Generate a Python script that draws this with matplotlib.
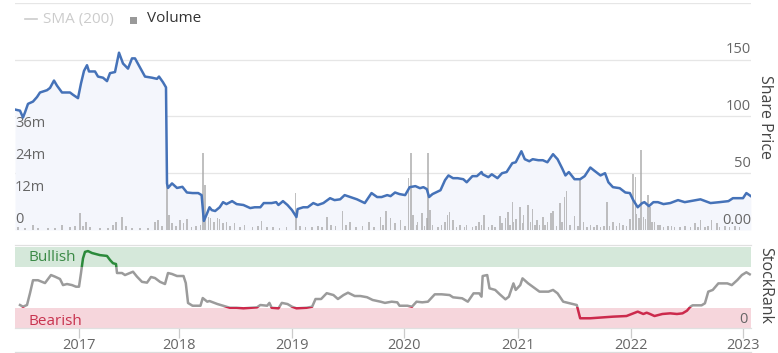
import numpy as np
import matplotlib
matplotlib.use("Agg")
import matplotlib.pyplot as plt
from matplotlib.patches import Rectangle
from matplotlib.lines import Line2D

plt.rcParams['font.family'] = ['Open Sans', 'DejaVu Sans']

# ---------------- data ----------------
price_years = [2016.36, 2016.41, 2016.44, 2016.46, 2016.49, 2016.54, 2016.58, 2016.61, 2016.68, 2016.71,
               2016.75, 2016.78, 2016.83, 2016.91, 2016.94, 2016.99, 2017.02, 2017.05, 2017.08, 2017.10,
               2017.16, 2017.19, 2017.24, 2017.28, 2017.31, 2017.36, 2017.40, 2017.44, 2017.49, 2017.53,
               2017.56, 2017.61, 2017.66, 2017.73, 2017.78, 2017.80, 2017.84, 2017.87, 2017.88, 2017.89,
               2017.93, 2017.98, 2018.03, 2018.07, 2018.12, 2018.17, 2018.20, 2018.22, 2018.25, 2018.27,
               2018.29, 2018.32, 2018.36, 2018.39, 2018.42, 2018.47, 2018.51, 2018.57, 2018.63, 2018.67,
               2018.72, 2018.75, 2018.82, 2018.86, 2018.88, 2018.92, 2018.96, 2019.00, 2019.04, 2019.05,
               2019.10, 2019.14, 2019.19, 2019.23, 2019.28, 2019.34, 2019.38, 2019.43, 2019.47, 2019.52,
               2019.58, 2019.65, 2019.71, 2019.76, 2019.80, 2019.85, 2019.88, 2019.92, 2019.96, 2020.01,
               2020.05, 2020.10, 2020.14, 2020.17, 2020.20, 2020.22, 2020.25, 2020.32, 2020.36, 2020.39,
               2020.43, 2020.47, 2020.52, 2020.55, 2020.60, 2020.64, 2020.68, 2020.69, 2020.74, 2020.77,
               2020.82, 2020.86, 2020.90, 2020.95, 2020.98, 2021.03, 2021.06, 2021.10, 2021.13, 2021.18,
               2021.22, 2021.26, 2021.31, 2021.35, 2021.39, 2021.42, 2021.45, 2021.50, 2021.55, 2021.59,
               2021.64, 2021.67, 2021.73, 2021.77, 2021.80, 2021.84, 2021.90, 2021.95, 2021.99, 2022.02,
               2022.06, 2022.10, 2022.12, 2022.16, 2022.20, 2022.24, 2022.29, 2022.35, 2022.42, 2022.48,
               2022.62, 2022.71, 2022.79, 2022.87, 2022.91, 2023.00, 2023.03, 2023.07]
price_values = [106, 105, 99, 103.5, 111, 113, 117, 121, 123, 125,
                131.5, 127, 121, 121, 119, 116, 129, 140, 145, 139.5,
                139.5, 135, 134, 131, 138, 139, 156, 146.5, 142, 151,
                151, 143, 135, 134, 133, 135, 130, 125.5, 41, 37,
                41, 37, 38, 33, 32.5, 32.5, 30.7, 8, 15, 20,
                17.5, 16.7, 20, 24.5, 22.8, 25.4, 22.8, 22, 19.3, 20,
                20, 23.7, 23.7, 24.5, 22, 25.4, 22, 17.5, 11.4, 18.4,
                20, 20, 23.7, 22, 23.7, 28, 26.3, 27, 30.7, 29,
                27, 23.7, 32.5, 29, 29, 30.7, 29.8, 33, 31.6, 30.7,
                37.7, 38.6, 36.8, 37.7, 36, 29, 31.6, 35, 43.9, 48,
                45.6, 45.6, 44.7, 42, 47.4, 47.4, 51, 49, 46.5, 49,
                45.6, 50, 51, 58.8, 59.6, 69.3, 62.3, 60.5, 62.3, 61.4,
                61.4, 59.6, 66.7, 62.3, 54.4, 48, 51, 44.7, 44.7, 47.4,
                55, 52.6, 48, 50, 42, 37.7, 36.8, 33, 32.5, 26.3,
                20, 23.7, 24.5, 21, 24.5, 24.5, 22.8, 23.7, 26.3, 24.5,
                27, 23.7, 24.5, 25.4, 28, 28, 32.5, 29.8]

volume_years = [2016.39, 2016.46, 2016.54, 2016.59, 2016.69, 2016.76, 2016.83, 2016.91, 2016.96, 2017.01,
                2017.04, 2017.07, 2017.11, 2017.21, 2017.29, 2017.34, 2017.37, 2017.43, 2017.47, 2017.53,
                2017.61, 2017.69, 2017.76, 2017.79, 2017.83, 2017.88, 2017.90, 2017.93, 2017.97, 2018.01,
                2018.04, 2018.07, 2018.11, 2018.15, 2018.19, 2018.21, 2018.23, 2018.26, 2018.28, 2018.31,
                2018.34, 2018.36, 2018.39, 2018.42, 2018.45, 2018.49, 2018.54, 2018.58, 2018.65, 2018.70,
                2018.73, 2018.78, 2018.83, 2018.89, 2018.95, 2019.03, 2019.04, 2019.07, 2019.12, 2019.18,
                2019.23, 2019.27, 2019.31, 2019.35, 2019.39, 2019.45, 2019.48, 2019.52, 2019.57, 2019.63,
                2019.69, 2019.73, 2019.79, 2019.81, 2019.84, 2019.88, 2019.92, 2019.97, 2020.01, 2020.04,
                2020.06, 2020.08, 2020.11, 2020.12, 2020.16, 2020.18, 2020.20, 2020.21, 2020.23, 2020.25,
                2020.30, 2020.33, 2020.36, 2020.38, 2020.40, 2020.43, 2020.46, 2020.49, 2020.53, 2020.55,
                2020.60, 2020.63, 2020.66, 2020.68, 2020.70, 2020.74, 2020.77, 2020.80, 2020.84, 2020.86,
                2020.89, 2020.91, 2020.93, 2020.95, 2020.96, 2020.98, 2021.02, 2021.04, 2021.05, 2021.09,
                2021.11, 2021.13, 2021.15, 2021.17, 2021.19, 2021.22, 2021.24, 2021.26, 2021.29, 2021.31,
                2021.34, 2021.37, 2021.39, 2021.41, 2021.43, 2021.46, 2021.50, 2021.53, 2021.55, 2021.58,
                2021.61, 2021.64, 2021.67, 2021.70, 2021.73, 2021.76, 2021.79, 2021.81, 2021.84, 2021.87,
                2021.90, 2021.93, 2021.96, 2021.99, 2022.02, 2022.04, 2022.05, 2022.07, 2022.09, 2022.11,
                2022.13, 2022.15, 2022.17, 2022.19, 2022.21, 2022.24, 2022.26, 2022.29, 2022.33, 2022.36,
                2022.39, 2022.44, 2022.48, 2022.53, 2022.57, 2022.60, 2022.62, 2022.66, 2022.69, 2022.72,
                2022.77, 2022.79, 2022.84, 2022.88, 2022.93, 2022.97]
volume_millions = [1.0, 0.8, 1.9, 0.8, 0.7, 0.8, 1.9, 1.2, 1.5, 6.4,
                   1.5, 3.0, 1.0, 0.6, 0.7, 2.0, 3.0, 4.9, 1.5, 0.8,
                   0.8, 0.8, 3.0, 3.7, 1.5, 23.0, 5.6, 2.5, 1.5, 3.7,
                   2.5, 4.0, 1.2, 1.5, 2.0, 29.0, 17.0, 5.0, 4.5, 3.0,
                   4.5, 4.0, 2.5, 3.0, 1.5, 2.5, 1.2, 2.0, 1.0, 1.5,
                   3.5, 1.0, 1.2, 0.8, 1.0, 14.0, 7.5, 1.5, 1.0, 1.2,
                   1.5, 1.0, 5.0, 2.0, 1.5, 7.0, 2.0, 3.0, 1.0, 1.5,
                   3.0, 1.0, 5.0, 2.0, 7.0, 4.5, 2.5, 3.7, 1.5, 19.5,
                   29.0, 5.6, 2.0, 3.0, 6.4, 1.5, 4.5, 29.0, 7.5, 1.9,
                   1.2, 1.9, 3.0, 5.6, 6.7, 3.7, 1.0, 1.9, 1.0, 1.9,
                   1.0, 1.5, 3.0, 2.0, 5.6, 1.2, 1.9, 1.0, 5.2, 2.5,
                   4.5, 6.7, 2.0, 10.5, 3.0, 4.1, 8.6, 2.5, 5.6, 9.4,
                   3.0, 7.9, 2.0, 3.7, 1.9, 4.9, 2.0, 3.0, 6.4, 7.1,
                   1.5, 10.0, 3.0, 12.4, 14.6, 2.0, 5.2, 1.5, 18.8, 3.0,
                   1.0, 1.9, 1.0, 1.9, 1.0, 1.5, 10.5, 1.5, 3.0, 1.5,
                   2.5, 2.0, 1.5, 4.0, 21.0, 20.0, 6.0, 4.5, 30.0, 5.0,
                   4.0, 13.0, 8.6, 3.0, 3.0, 2.0, 1.9, 1.0, 1.5, 1.5,
                   1.0, 1.0, 1.5, 1.0, 2.6, 1.0, 3.7, 1.0, 1.5, 3.7,
                   2.5, 1.0, 1.5, 1.0, 1.5, 1.0]

rank_years = [2016.41, 2016.44, 2016.48, 2016.51, 2016.54, 2016.59, 2016.63, 2016.66, 2016.69, 2016.72,
              2016.76, 2016.81, 2016.84, 2016.88, 2016.93, 2016.97, 2017.00, 2017.02, 2017.04, 2017.06,
              2017.09, 2017.13, 2017.21, 2017.28, 2017.31, 2017.34, 2017.37, 2017.38, 2017.43, 2017.46,
              2017.51, 2017.54, 2017.58, 2017.63, 2017.68, 2017.72, 2017.76, 2017.81, 2017.86, 2017.89,
              2017.93, 2017.98, 2018.04, 2018.06, 2018.08, 2018.12, 2018.19, 2018.21, 2018.25, 2018.27,
              2018.34, 2018.39, 2018.45, 2018.51, 2018.57, 2018.69, 2018.72, 2018.78, 2018.80, 2018.82,
              2018.88, 2018.91, 2018.96, 2019.00, 2019.04, 2019.13, 2019.18, 2019.21, 2019.26, 2019.31,
              2019.37, 2019.41, 2019.46, 2019.50, 2019.56, 2019.61, 2019.67, 2019.72, 2019.79, 2019.83,
              2019.89, 2019.94, 2019.96, 2020.03, 2020.07, 2020.11, 2020.16, 2020.21, 2020.27, 2020.33,
              2020.40, 2020.43, 2020.51, 2020.56, 2020.61, 2020.66, 2020.68, 2020.69, 2020.73, 2020.75,
              2020.80, 2020.84, 2020.89, 2020.92, 2020.96, 2020.98, 2021.02, 2021.04, 2021.09, 2021.13,
              2021.19, 2021.27, 2021.31, 2021.35, 2021.40, 2021.46, 2021.52, 2021.55, 2021.64, 2021.84,
              2021.96, 2022.02, 2022.06, 2022.11, 2022.14, 2022.17, 2022.21, 2022.28, 2022.35, 2022.41,
              2022.46, 2022.50, 2022.53, 2022.55, 2022.63, 2022.66, 2022.69, 2022.73, 2022.78, 2022.86,
              2022.90, 2022.95, 2022.99, 2023.03, 2023.06]
rank_values = [28.4, 26.3, 28.4, 43, 59, 59, 57, 55.5, 60.5, 65.4,
               63.4, 60.5, 53, 54.3, 53, 51, 51, 67.9, 86, 94,
               95, 92.6, 90, 89, 84, 80, 79, 67.9, 67.9, 65.4,
               67.9, 69.5, 63.4, 57, 56, 63, 61.7, 57, 54.3, 67.9,
               66.7, 64.2, 64.2, 55.5, 30.9, 27.5, 27.5, 37, 32.5, 33.3,
               29.6, 27.5, 25, 25, 24.3, 25.5, 28.4, 27.5, 31, 25,
               24.3, 31, 29.6, 26.3, 24.3, 25, 26.3, 35.8, 35.8, 43,
               40.7, 35.8, 40.7, 43.6, 39.5, 39.5, 38, 34.6, 32.5, 31,
               32.5, 31.7, 27.5, 27.5, 26.3, 32.5, 31.7, 32.5, 41.6, 41.6,
               40.7, 37.9, 36.7, 32.5, 42.8, 42.8, 38.7, 64.2, 65.4, 49,
               47, 41.6, 35.4, 38.7, 55.1, 47, 53, 61.3, 55.1, 51,
               44.9, 44.9, 47, 42.8, 32.5, 30.5, 28.4, 12, 12, 14,
               14.8, 18.1, 20.2, 17.3, 18.9, 17.3, 14.8, 17.3, 18.1, 17.3,
               18.1, 21.4, 26.3, 28, 28, 30.5, 44.9, 47, 55.1, 55.1,
               53, 59.3, 65.4, 68.8, 66.3]

year_ticks = [2017, 2018, 2019, 2020, 2021, 2022, 2023]
price_ticks = [50, 100, 150, 200]
price_tick_labels = ["50", "100", "150", "200"]
volume_ticks = [0, 12, 24, 36]
volume_tick_labels = ["0", "12m", "24m", "36m"]
bearish_band = (0, 25)
bullish_band = (75, 100)

# ---------------- layout helpers ----------------
W, H = 778, 353
fig = plt.figure(figsize=(W / 100, H / 100), dpi=100)


def rect(x0, y0, x1, y1):
    return [x0 / W, 1 - y1 / H, (x1 - x0) / W, (y1 - y0) / H]


# ordinal-like time axis (as in the original, 2016 is compressed)
KNOT_YEARS = [2015.0, 2017, 2018, 2019, 2020, 2021, 2022, 2023, 2025]
KNOT_PX = [-121, 79, 179, 292, 404, 518, 631, 743, 967]


def fwd(x):
    return np.interp(np.asarray(x, dtype=float), KNOT_YEARS, KNOT_PX)


def inv(p):
    return np.interp(np.asarray(p, dtype=float), KNOT_PX, KNOT_YEARS)


X0 = float(inv(15))
X1 = float(inv(751))

GRID = '#e6e6e6'
TXT = '#666666'
PRICE_C = '#4572b8'

# ---------------- top panel ----------------
ax = fig.add_axes(rect(15, 2.7, 751, 230))
ax.set_xscale('function', functions=(fwd, inv))
ax.set_xlim(X0, X1)
ax.set_ylim(0, 200)
ax.set_facecolor('white')
for s in ax.spines.values():
    s.set_visible(False)
ax.set_xticks([])
ax.set_yticks([])
for v in price_ticks:
    ax.axhline(v, color=GRID, lw=0.9, zorder=0)
ax.axhline(0, color='#d8d8d8', lw=1.0, zorder=0)
ax.fill_between(price_years, price_values, 0, color='#f4f6fc', lw=0, zorder=1)
for v, lab in zip(price_ticks, price_tick_labels):
    t = ax.text(1.0, v + 2, lab, transform=ax.get_yaxis_transform(), ha='right', va='bottom',
                fontsize=10.5, color=TXT, zorder=6)
    t.set_clip_on(False)
ax.text(1.0, 1.5, "0.00", transform=ax.get_yaxis_transform(), ha='right', va='bottom',
        fontsize=10.5, color=TXT, zorder=6)

# volume layer
axv = fig.add_axes(rect(15, 2.7, 751, 230), sharex=ax)
axv.patch.set_alpha(0)
axv.set_ylim(0, 85.2)
axv.bar(volume_years, volume_millions, width=0.014, color='#a8a8a8', alpha=0.72, lw=0, zorder=2)
for s in axv.spines.values():
    s.set_visible(False)
axv.set_xticks([])
axv.set_yticks([])
for v, lab in zip(volume_ticks, volume_tick_labels):
    axv.text(0.0, v + 1.0, lab, transform=axv.get_yaxis_transform(), ha='left', va='bottom',
             fontsize=10.5, color=TXT, zorder=6)

# price line layer
axl = fig.add_axes(rect(15, 2.7, 751, 230), sharex=ax)
axl.patch.set_alpha(0)
axl.set_ylim(0, 200)
axl.plot(price_years, price_values, color=PRICE_C, lw=1.8, solid_joinstyle='round', zorder=3)
for s in axl.spines.values():
    s.set_visible(False)
axl.set_xticks([])
axl.set_yticks([])

# legend
fig.add_artist(Line2D([25 / W, 37 / W], [1 - 19 / H, 1 - 19 / H], color='#cccccc', lw=1.2))
fig.text(43 / W, 1 - 19 / H, "SMA (200)", color='#cccccc', fontsize=11, va='center', ha='left')
fig.add_artist(Rectangle((130 / W, 1 - 24 / H), 7 / W, 7 / H, color='#999999', lw=0))
fig.text(147 / W, 1 - 19 / H, "Volume", color='#333333', fontsize=11, va='center', ha='left')

fig.text(765 / W, 1 - 117 / H, "Share Price", rotation=270, color='#444444', fontsize=11.5,
         ha='center', va='center')

# ---------------- bottom panel ----------------
axr = fig.add_axes(rect(15, 245, 751, 328))
axr.set_xscale('function', functions=(fwd, inv))
axr.set_xlim(X0, X1)
axr.set_ylim(0, 102.5)
for k, s in axr.spines.items():
    s.set_visible(k in ('top', 'bottom'))
    s.set_color('#e0e0e0')
    s.set_linewidth(0.9)
axr.axhspan(*bullish_band, color='#d5e8da', lw=0, zorder=0)
axr.axhspan(*bearish_band, color='#f6d6dc', lw=0, zorder=0)
axr.set_yticks([])
axr.set_xticks(year_ticks)
axr.set_xticklabels([str(y) for y in year_ticks])
axr.tick_params(axis='x', length=7, width=0.9, color='#cccccc', labelcolor=TXT,
                labelsize=10.5, pad=0.5)

axr.text(0.018, 87.5, "Bullish", transform=axr.get_yaxis_transform(), color='#3b8a46',
         fontsize=11, va='center', ha='left')
axr.text(0.018, 8.5, "Bearish", transform=axr.get_yaxis_transform(), color='#c8334f',
         fontsize=11, va='center', ha='left')
axr.text(0.995, 1.5, "0", transform=axr.get_yaxis_transform(), color=TXT, fontsize=10.5,
         va='bottom', ha='right')

for col, (lo, hi) in [('#9b9b9b', (26, 75)), ('#2b8a3b', (75, 300)), ('#cc2a4c', (-100, 26))]:
    ln, = axr.plot(rank_years, rank_values, color=col, lw=1.8, solid_joinstyle='round', zorder=3)
    clip = Rectangle((X0 - 1, lo), (X1 - X0) + 2, hi - lo, transform=axr.transData)
    ln.set_clip_path(clip)

fig.text(765 / W, 1 - 285 / H, "StockRank", rotation=270, color='#444444', fontsize=11.5,
         ha='center', va='center')

fig.add_artist(Line2D([15 / W, 751 / W], [1 - 351.5 / H, 1 - 351.5 / H], color='#dddddd', lw=0.9))

fig.savefig("out.png", dpi=100)
